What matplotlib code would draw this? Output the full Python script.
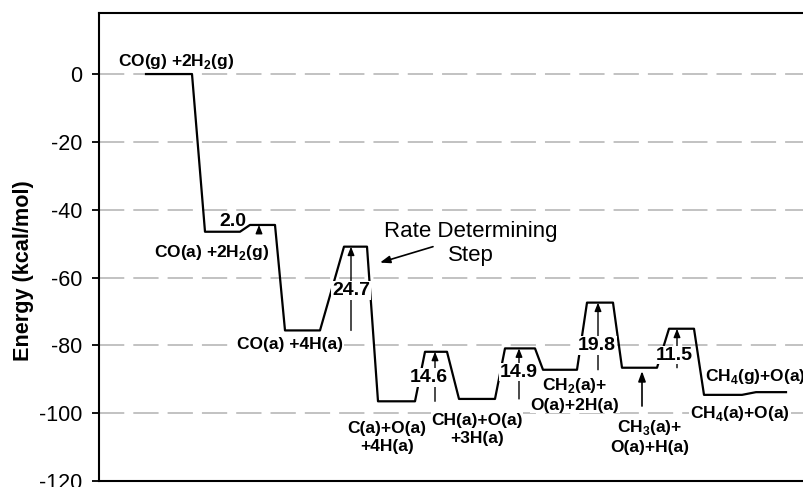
import numpy as np
import matplotlib.pyplot as plt

plt.rcParams['font.family'] = ['Liberation Sans', 'DejaVu Sans']
plt.rcParams['mathtext.fontset'] = 'custom'
plt.rcParams['mathtext.rm'] = 'Liberation Sans'
plt.rcParams['mathtext.bf'] = 'Liberation Sans:bold'

# energy profile (reaction coordinate is arbitrary)
path_x = [47, 93, 106, 141, 151, 176, 186, 221, 245, 268, 279, 316, 326, 348, 360,
          396, 406, 436, 444, 478, 488, 514, 523, 558, 570, 595, 605, 643, 657, 687]
path_e = [0, 0, -46.5, -46.5, -44.5, -44.5, -75.6, -75.6, -50.9, -50.9, -96.5, -96.5,
          -81.9, -81.9, -95.8, -95.8, -80.9, -80.9, -87.2, -87.2, -67.4, -67.4,
          -86.6, -86.6, -75.1, -75.1, -94.6, -94.6, -93.8, -93.8]

# barriers
barrier_text = ["2.0", "24.7", "14.6", "14.9", "19.8", "11.5"]
barrier_x = [160, 252, 336, 420, 499, 578]
barrier_lo = [-46.5, -75.6, -96.5, -95.8, -87.2, -86.6]
barrier_hi = [-44.5, -50.9, -81.9, -80.9, -67.4, -75.1]
barrier_lx = [134, 252, 330, 420, 498, 575]
barrier_ly = [-43.6, -63.8, -89.4, -87.9, -80.0, -82.9]

# intermediates
state_text = [r"CO(g) +2H$_\mathbf{2}$(g)", r"CO(a) +2H$_\mathbf{2}$(g)", "CO(a) +4H(a)",
              "C(a)+O(a)\n+4H(a)", "CH(a)+O(a)\n+3H(a)", "CH$_\\mathbf{2}$(a)+\nO(a)+2H(a)",
              "CH$_\\mathbf{3}$(a)+\nO(a)+H(a)", "CH$_\\mathbf{4}$(g)+O(a)", "CH$_\\mathbf{4}$(a)+O(a)"]
state_x = [77, 113, 191, 288, 378, 476, 551, 656, 641]
state_y = [3.8, -52.6, -79.7, -107.1, -104.7, -94.4, -106.8, -89.1, -100.0]

yticks = [0, -20, -40, -60, -80, -100, -120]

fig = plt.figure(figsize=(8.04, 4.87), dpi=100)
ax = fig.add_axes([99 / 804, 6 / 487, 705 / 804, 468 / 487])
ax.set_xlim(0, 705)
ax.set_ylim(-120, 18)

for t in yticks[:-1]:
    ax.axhline(t, color='#bdbdbd', lw=1.3, ls=(0, (14, 5)), zorder=1)

ax.plot(path_x, path_e, color='black', lw=1.6, zorder=2)

wb = dict(fc='white', ec='none', pad=0.5)
for i in range(len(state_text)):
    ax.text(state_x[i], state_y[i], state_text[i], ha='center', va='center',
            fontsize=12.5, fontweight='bold', linespacing=1.25, bbox=wb, zorder=4)

for i in range(len(barrier_text)):
    ax.annotate("", xy=(barrier_x[i], barrier_hi[i]), xytext=(barrier_x[i], barrier_lo[i]),
                arrowprops=dict(arrowstyle='-|>,head_length=0.5,head_width=0.2', color='black',
                                lw=1.0, shrinkA=0, shrinkB=0), zorder=3)
    ax.text(barrier_lx[i], barrier_ly[i], barrier_text[i], ha='center', va='center',
            fontsize=14, fontweight='bold', bbox=wb if i > 0 else None, zorder=5)

ax.text(372, -50, "Rate Determining\nStep", ha='center', va='center', fontsize=16,
        linespacing=1.2, zorder=4)
ax.annotate("", xy=(281, -55.6), xytext=(334, -50.9),
            arrowprops=dict(arrowstyle='-|>,head_length=0.6,head_width=0.22', color='black',
                            lw=1.2, shrinkA=0, shrinkB=0))
ax.annotate("", xy=(543, -87.6), xytext=(543, -97.9),
            arrowprops=dict(arrowstyle='-|>,head_length=0.6,head_width=0.22', color='black',
                            lw=1.2, shrinkA=0, shrinkB=0))

ax.set_yticks(yticks)
ax.set_yticklabels([str(t) for t in yticks], fontsize=15.5)
ax.set_xticks([])
ax.tick_params(axis='y', direction='out', length=5, width=1.3, pad=7)
ax.spines['right'].set_visible(False)
for s in ['left', 'top', 'bottom']:
    ax.spines[s].set_linewidth(1.5)
ax.set_ylabel("Energy (kcal/mol)", fontsize=15.6, fontweight='bold')
ax.yaxis.set_label_coords(-0.092, 0.449)

fig.savefig("out.png", dpi=100)
